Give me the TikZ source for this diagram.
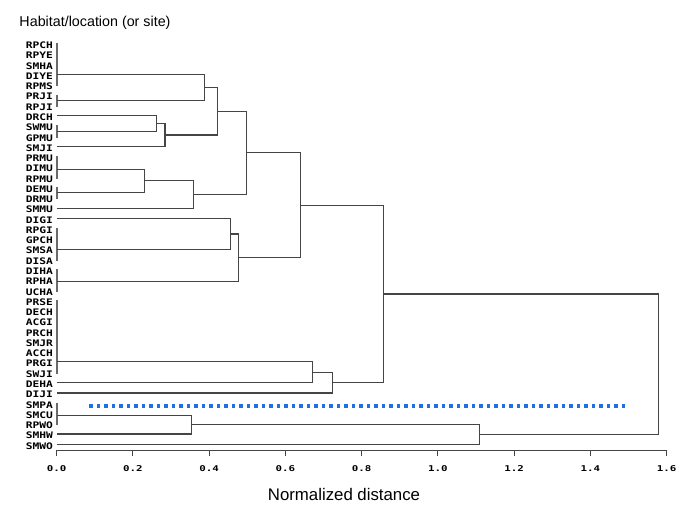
\documentclass[tikz,border=0pt]{standalone}
\usepackage{fontspec}
\setmainfont{Liberation Sans}
\newfontfamily\sasfont[FakeStretch=1.25]{DejaVu Sans Mono}
\newfontfamily\sastick[FakeStretch=1.35]{DejaVu Sans Mono}
\usetikzlibrary{calc}
\definecolor{treeline}{HTML}{454545}
\definecolor{cutblue}{HTML}{1F6FE5}
\newcommand{\dgrow}[1]{(43.8+10.27*(#1))}
\newcommand{\dgmerge}[4]{%
  \path let \p1=(#3), \p2=(#4) in (#2pt,{0.5*\y1+0.5*\y2}) coordinate (#1);
  \draw[branch] (#3) -| (#1) |- (#4);}
\begin{document}
\begin{tikzpicture}[x=1pt,y=-1pt,
  lab/.style={anchor=west,inner sep=0pt,font=\sasfont\bfseries\fontsize{9}{9}\selectfont},
  ticklab/.style={anchor=center,inner sep=0pt,font=\sastick\bfseries\fontsize{8}{8}\selectfont},
  branch/.style={draw=treeline,line width=1.15pt},
  bar/.style={draw=treeline!80,line width=1.4pt},
  axisline/.style={draw=treeline,line width=1pt},
  cut/.style={draw=cutblue,line width=3.4pt,dash pattern=on 3.4pt off 4.1pt},
]
\useasboundingbox (0,0) rectangle (685,509);

% title
\node[anchor=base west,inner sep=0pt,font=\fontsize{14.3}{14.3}\selectfont] (title) at (19.3,26) {Habitat/location (or site)};

% leaf labels
\foreach \n [count=\i from 0] in {RPCH,RPYE,SMHA,DIYE,RPMS,PRJI,RPJI,DRCH,SWMU,GPMU,SMJI,PRMU,DIMU,RPMU,DEMU,DRMU,SMMU,DIGI,RPGI,GPCH,SMSA,DISA,DIHA,RPHA,UCHA,PRSE,DECH,ACGI,PRCH,SMJR,ACCH,PRGI,SWJI,DEHA,DIJI,SMPA,SMCU,RPWO,SMHW,SMWO}
  \node[lab] (\n) at (25.7,{45.3+10.27*\i}) {\n};

% zero-distance groups: vertical bars
\foreach \a/\b in {0/4,5/6,8/9,11/13,14/15,18/21,22/24,25/32,35/37}
  \draw[bar] (57,{\dgrow{\a}-0.5}) -- (57,{\dgrow{\b}+1.5});

% starting points of leaves and groups
\coordinate (g1) at (57,{\dgrow{3}});
\coordinate (g2) at (57,{\dgrow{5.5}});
\coordinate (l7) at (57,{\dgrow{7}});
\coordinate (g3) at (57,{\dgrow{8.5}});
\coordinate (l10) at (57,{\dgrow{10}});
\coordinate (g4) at (57,{\dgrow{12.2}});
\coordinate (g5) at (57,{\dgrow{14.5}});
\coordinate (l16) at (57,{\dgrow{16}});
\coordinate (l17) at (57,{\dgrow{17}});
\coordinate (g6) at (57,{\dgrow{20.05}});
\coordinate (g7) at (57,{\dgrow{23.15}});
\coordinate (g8) at (57,{\dgrow{30.95}});
\coordinate (l33) at (57,{\dgrow{33}});
\coordinate (l34) at (57,{\dgrow{34}});
\coordinate (g9) at (57,{\dgrow{36.2}});
\coordinate (l38) at (57,{\dgrow{38}});
\coordinate (l39) at (57,{\dgrow{39}});

% merges
\dgmerge{n1}{204.3}{g1}{g2}
\dgmerge{n2}{156.7}{l7}{g3}
\dgmerge{n3}{165}{n2}{l10}
\dgmerge{n4}{217.3}{n1}{n3}
\dgmerge{n5}{144.3}{g4}{g5}
\dgmerge{n6}{193.3}{n5}{l16}
\dgmerge{n7}{246.7}{n4}{n6}
\dgmerge{n8}{230.3}{l17}{g6}
\dgmerge{n9}{238.7}{n8}{g7}
\dgmerge{n10}{300.3}{n7}{n9}
\dgmerge{n11}{312.3}{g8}{l33}
\dgmerge{n12}{332.3}{n11}{l34}
\dgmerge{n13}{383.3}{n10}{n12}
\dgmerge{n14}{191.5}{g9}{l38}
\dgmerge{n15}{479.3}{n14}{l39}
\dgmerge{n16}{658.3}{n13}{n15}

% cut line
\coordinate (cutL) at (89.3,406);
\coordinate (cutR) at (629,406);
\draw[cut] (cutL) -- (cutR);

% axis
\coordinate (ax0) at (56.7,450);
\coordinate (ax1) at (666.7,450);
\draw[axisline] (ax0) -- (ax1);
\foreach \v [count=\k from 0] in {0.0,0.2,0.4,0.6,0.8,1.0,1.2,1.4,1.6}{
  \draw[axisline] ({56.7+76.25*\k},450) -- ({56.7+76.25*\k},456);
  \node[ticklab] (tick\k) at ({56.7+76.25*\k},469) {\v};
}
\node[anchor=base,inner sep=0pt,font=\fontsize{16.8}{16.8}\selectfont] (xlab) at (344,500) {Normalized distance};
\end{tikzpicture}
\end{document}
